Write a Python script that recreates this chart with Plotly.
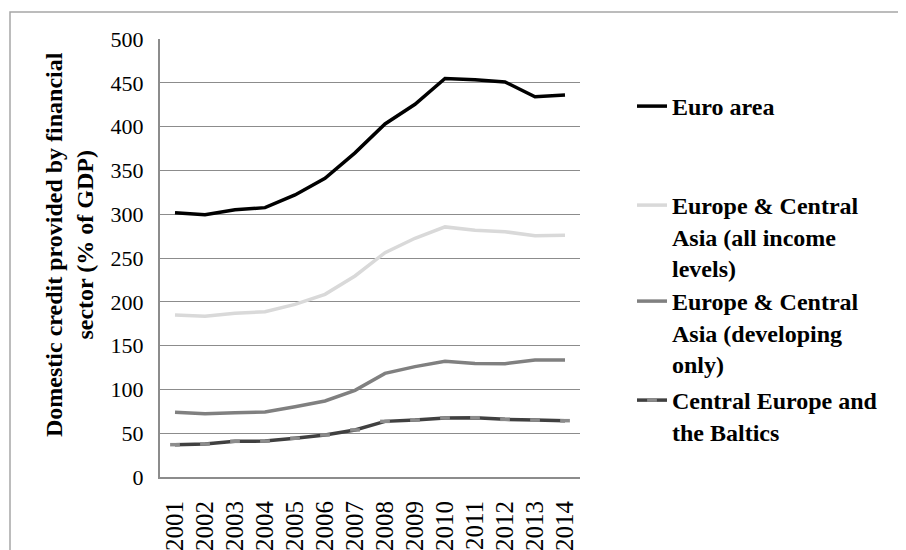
import plotly.graph_objects as go

years = [2001, 2002, 2003, 2004, 2005, 2006, 2007, 2008, 2009, 2010, 2011, 2012, 2013, 2014]
year_labels = [str(y) for y in years]
euro_area = [301.7, 299.5, 305.0, 307.5, 322.0, 341.0, 370.0, 403.0, 425.5, 455.0, 453.5, 451.0, 434.0, 436.0]
eca_all = [185.0, 183.5, 187.0, 188.7, 197.0, 208.5, 229.5, 256.0, 272.5, 285.5, 281.8, 280.0, 275.5, 276.0]
eca_dev = [73.8, 72.3, 73.4, 74.2, 80.3, 86.8, 99.0, 118.3, 126.0, 132.0, 129.7, 129.4, 133.6, 133.6]
ceb = [36.9, 37.7, 40.7, 41.0, 44.2, 48.0, 53.7, 63.5, 65.0, 67.4, 67.7, 65.8, 65.0, 64.3]
y_ticks = [0, 50, 100, 150, 200, 250, 300, 350, 400, 450, 500]

names = ["Euro area",
         "Europe & Central<br>Asia (all income<br>levels)",
         "Europe & Central<br>Asia (developing<br>only)",
         "Central Europe and<br>the Baltics"]

SERIF = "Times New Roman, Liberation Serif, serif"

fig = go.Figure()
fig.add_trace(go.Scatter(x=years, y=euro_area, name=names[0], mode="lines",
                         line=dict(color="#000000", width=3.5), legend="legend"))
fig.add_trace(go.Scatter(x=years, y=eca_all, name=names[1], mode="lines",
                         line=dict(color="#d9d9d9", width=3.5), legend="legend2"))
fig.add_trace(go.Scatter(x=years, y=eca_dev, name=names[2], mode="lines",
                         line=dict(color="#808080", width=3.5), legend="legend3"))
fig.add_trace(go.Scatter(x=years, y=ceb, name=names[3], mode="lines+markers",
                         line=dict(color="#404040", width=3.5),
                         marker=dict(symbol="line-ew", size=7, color="#8c8c8c",
                                     line=dict(color="#8c8c8c", width=3.5)),
                         legend="legend4"))

# page body has an 8px default margin; figure is sized to fit the window
OFF = 8
W, H = 906 - OFF, 550 - OFF
PL, PR, PT, PB = 160, 580, 39, 477          # plot area in window pixels
L, T = PL - OFF, PT - OFF
R, B = W - (PR - OFF), H - (PB - OFF)
pw, ph = PR - PL, PB - PT

def px_x(x):
    return (x - PL) / pw

def px_y(y):
    return (PB - y) / ph

leg_font = dict(family=SERIF, size=24, color="#000000", weight="bold")
leg_common = dict(font=leg_font, bgcolor="rgba(0,0,0,0)", borderwidth=0,
                  xanchor="left", yanchor="top", valign="top", x=px_x(632))

fig.update_layout(
    width=W, height=H,
    margin=dict(l=L, r=R, t=T, b=B, pad=0, autoexpand=False),
    paper_bgcolor="white", plot_bgcolor="white",
    showlegend=True,
    legend=dict(**leg_common, y=px_y(84)),
    legend2=dict(**leg_common, y=px_y(183)),
    legend3=dict(**leg_common, y=px_y(279)),
    legend4=dict(**leg_common, y=px_y(378)),
    xaxis=dict(range=[2000.5, 2014.5], tickmode="array", tickvals=years, ticktext=year_labels,
               tickangle=-90, showgrid=False, zeroline=False, automargin=False,
               showline=True, linecolor="#8c8c8c", linewidth=2,
               ticks="", ticklabelstandoff=12,
               tickfont=dict(family=SERIF, size=25, color="#000000")),
    yaxis=dict(range=[0, 500], tickmode="array", tickvals=y_ticks, automargin=False,
               showgrid=True, gridcolor="#8c8c8c", gridwidth=1, zeroline=False,
               showline=True, linecolor="#8c8c8c", linewidth=2,
               ticks="", ticklabelstandoff=10,
               tickfont=dict(family=SERIF, size=22, color="#000000")),
    annotations=[dict(text="Domestic credit provided by financial<br>sector (% of GDP)",
                      xref="paper", yref="paper", x=px_x(69), y=px_y(245),
                      xanchor="center", yanchor="middle", textangle=-90, showarrow=False,
                      font=dict(family=SERIF, size=24, color="#000000", weight="bold"))],
    shapes=[dict(type="rect", xref="paper", yref="paper",
                 x0=px_x(10), x1=px_x(915), y0=px_y(560), y1=px_y(12),
                 line=dict(color="#a6a6a6", width=1.5), fillcolor="rgba(0,0,0,0)", layer="below")],
)

fig.write_html("out.html")
